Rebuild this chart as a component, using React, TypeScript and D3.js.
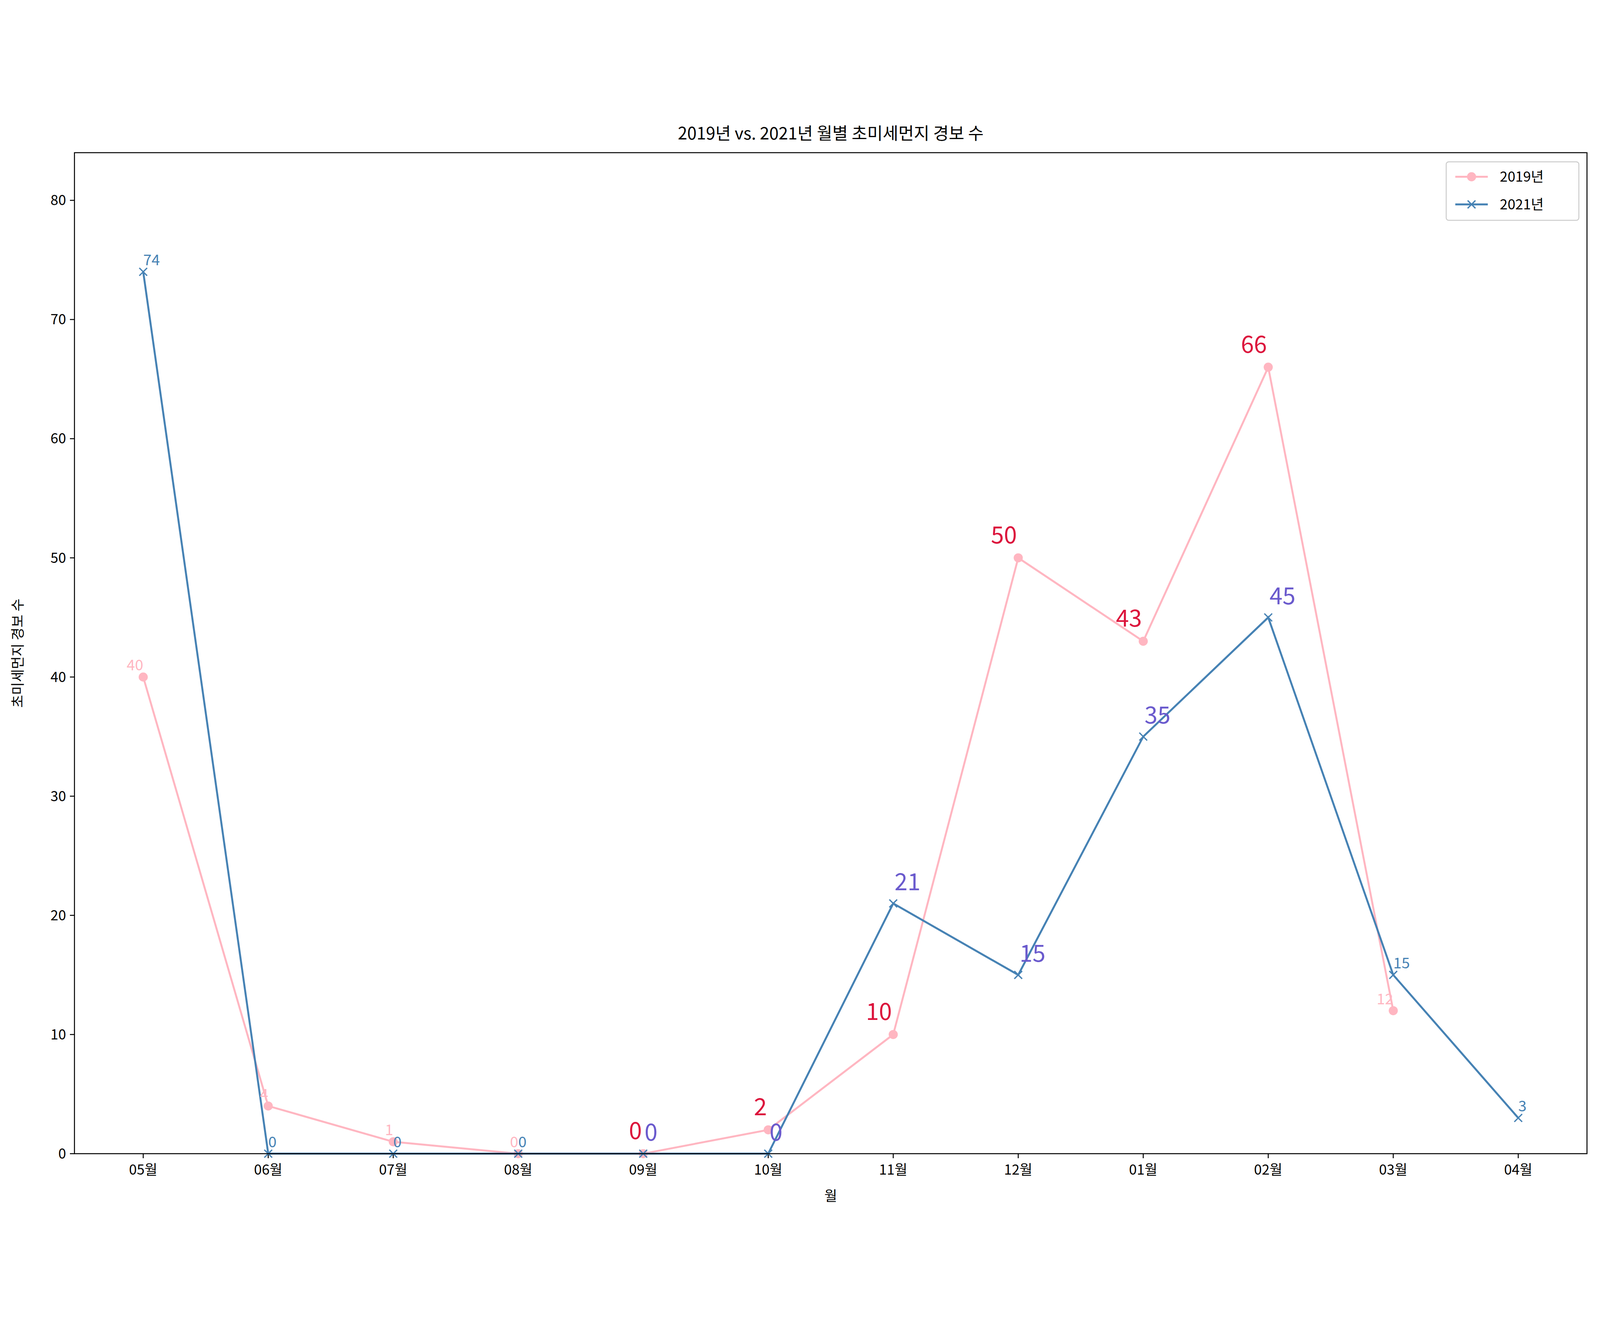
import React from "react";
import * as d3 from "d3";

const months = ["05월","06월","07월","08월","09월","10월","11월","12월","01월","02월","03월","04월"];
const v2019 = [40,4,1,0,0,2,10,50,43,66,12];
const v2021 = [74,0,0,0,0,0,21,15,35,45,15,3];
const bigStart = 4, bigEnd = 9; // 09월..02월 emphasized labels
const yTicks = [0,10,20,30,40,50,60,70,80];

const W = 4920, H = 3415;
const L = 229, R = 4880, T = 126, B = 3204;
const PINK = "#FFB6C1", BLUE = "#4682B4", CRIM = "#DC143C", SLATE = "#6A5ACD";
const FONT = "'Noto Sans CJK KR', 'Noto Sans', sans-serif";

export default function App() {
  const x = d3.scaleLinear().domain([-0.55, months.length - 1 + 0.55]).range([L, R]);
  const y = d3.scaleLinear().domain([0, 84]).range([B, T]);
  const line = d3.line<number>().x((_, i) => x(i)).y(d => y(d));
  const ms = 12;
  return (
    <svg viewBox={`0 0 ${W} ${H}`} preserveAspectRatio="xMidYMid meet" style={{ display: "block", position: "fixed", left: 0, top: 0, width: "100vw", height: "100vh", background: "#fff" }} fontFamily={FONT}>
      <rect width={W} height={H} fill="#fff" />
      <text x={(L + R) / 2} y={85} textAnchor="middle" fontSize={52}>2019년 vs. 2021년 월별 초미세먼지 경보 수</text>
      {yTicks.map(t => (
        <g key={t}>
          <line x1={L - 14} x2={L} y1={y(t)} y2={y(t)} stroke="#000" strokeWidth={3} />
          <text x={L - 26} y={y(t) + 15} textAnchor="end" fontSize={43}>{t}</text>
        </g>
      ))}
      {months.map((m, i) => (
        <g key={m}>
          <line x1={x(i)} x2={x(i)} y1={B} y2={B + 14} stroke="#000" strokeWidth={3} />
          <text x={x(i)} y={B + 65} textAnchor="middle" fontSize={43}>{m}</text>
        </g>
      ))}
      <text x={(L + R) / 2} y={B + 145} textAnchor="middle" fontSize={43}>월</text>
      <text transform={`translate(70,${(T + B) / 2}) rotate(-90)`} textAnchor="middle" fontSize={43}>초미세먼지 경보 수</text>
      <path d={line(v2019) || ""} fill="none" stroke={PINK} strokeWidth={6} />
      {v2019.map((v, i) => <circle key={i} cx={x(i)} cy={y(v)} r={ms + 2} fill={PINK} />)}
      <path d={line(v2021) || ""} fill="none" stroke={BLUE} strokeWidth={6} />
      {v2021.map((v, i) => (
        <path key={i} d={`M${x(i) - ms},${y(v) - ms}L${x(i) + ms},${y(v) + ms}M${x(i) - ms},${y(v) + ms}L${x(i) + ms},${y(v) - ms}`} stroke={BLUE} strokeWidth={4} />
      ))}
      {v2019.map((v, i) => {
        const big = i >= bigStart && i <= bigEnd;
        return <text key={i} x={x(i) - (big ? 4 : 0)} y={y(v) - (big ? 45 : 20)} textAnchor="end" fontSize={big ? 72 : 46} fill={big ? CRIM : PINK}>{v}</text>;
      })}
      {v2021.map((v, i) => {
        const big = i >= bigStart && i <= bigEnd;
        return <text key={i} x={x(i) + (big ? 4 : 0)} y={y(v) - (big ? 40 : 20)} textAnchor="start" fontSize={big ? 72 : 46} fill={big ? SLATE : BLUE}>{v}</text>;
      })}
      <rect x={L} y={T} width={R - L} height={B - T} fill="none" stroke="#000" strokeWidth={3} />
      <g>
        <rect x={4447} y={154} width={408} height={180} rx={8} fill="#fff" stroke="#ccc" strokeWidth={3} />
        <line x1={4475} x2={4575} y1={200} y2={200} stroke={PINK} strokeWidth={6} />
        <circle cx={4525} cy={200} r={ms + 2} fill={PINK} />
        <text x={4612} y={215} fontSize={43}>2019년</text>
        <line x1={4475} x2={4575} y1={285} y2={285} stroke={BLUE} strokeWidth={6} />
        <path d={`M${4525 - ms},${285 - ms}L${4525 + ms},${285 + ms}M${4525 - ms},${285 + ms}L${4525 + ms},${285 - ms}`} stroke={BLUE} strokeWidth={4} />
        <text x={4612} y={300} fontSize={43}>2021년</text>
      </g>
    </svg>
  );
}
